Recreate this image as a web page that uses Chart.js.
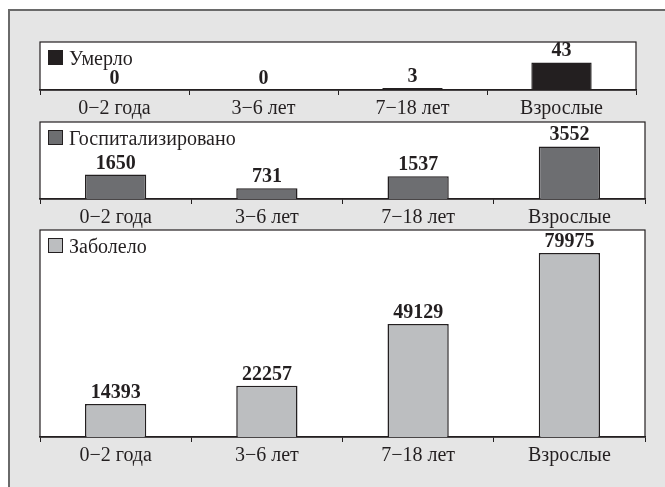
<!DOCTYPE html>
<html>
<head>
<meta charset="utf-8">
<script src="https://cdn.jsdelivr.net/npm/chart.js@4/dist/chart.umd.min.js"></script>
<style>
  body { margin: 0; background: #fff; width: 665px; height: 487px; overflow: hidden; position: relative; }
  #frame { position: absolute; left: 8px; top: 9px; width: 700px; height: 520px; background: #e5e5e5; border: 2px solid #6a6a6a; box-sizing: border-box; }
  canvas { position: absolute; }
</style>
</head>
<body>
<div id="frame"></div>
<canvas id="died" width="598" height="79" style="left:39px;top:41px"></canvas>
<canvas id="hosp" width="607" height="108" style="left:39px;top:121px"></canvas>
<canvas id="sick" width="607" height="238" style="left:39px;top:229px"></canvas>
<script>
// данные
var categories = ['0\u22122 года', '3\u22126 лет', '7\u221218 лет', 'Взрослые'];
var diedValues = [0, 0, 3, 43];
var hospValues = [1650, 731, 1537, 3552];
var sickValues = [14393, 22257, 49129, 79975];

var ink = '#231f20';
var serif = 'Liberation Serif';

// белая рамка, легенда и подписи значений
var panelPlugin = {
  id: 'panel',
  beforeDraw: function (chart) {
    var ctx = chart.ctx, a = chart.chartArea;
    ctx.save();
    ctx.fillStyle = '#fff';
    ctx.fillRect(a.left, a.top, a.width, a.height);
    ctx.strokeStyle = ink;
    ctx.lineWidth = 1.2;
    ctx.strokeRect(a.left, a.top, a.width, a.height);
    ctx.restore();
  },
  afterDatasetsDraw: function (chart) {
    var ctx = chart.ctx, a = chart.chartArea;
    var ds = chart.data.datasets[0];
    var meta = chart.getDatasetMeta(0);
    ctx.save();
    ctx.fillStyle = ink;
    ctx.font = 'bold 20px "' + serif + '"';
    ctx.textAlign = 'center';
    ctx.textBaseline = 'alphabetic';
    meta.data.forEach(function (bar, i) {
      ctx.fillText(String(ds.data[i]), bar.x, bar.y - 6);
    });
    // легенда
    ctx.fillStyle = ds.backgroundColor;
    ctx.fillRect(a.left + 8.5, a.top + 8.5, 14, 14);
    ctx.strokeStyle = ink;
    ctx.lineWidth = 1;
    ctx.strokeRect(a.left + 8.5, a.top + 8.5, 14, 14);
    ctx.fillStyle = ink;
    ctx.font = '20px "' + serif + '"';
    ctx.textAlign = 'left';
    ctx.fillText(ds.label, a.left + 29, a.top + 22.5);
    ctx.restore();
  }
};

function makeChart(id, label, values, color, yMax) {
  return new Chart(document.getElementById(id), {
    type: 'bar',
    data: {
      labels: categories,
      datasets: [{
        label: label,
        data: values,
        backgroundColor: color,
        borderColor: ink,
        borderWidth: 1.5,
        barPercentage: 0.405,
        categoryPercentage: 1
      }]
    },
    options: {
      responsive: false,
      animation: false,
      layout: { padding: { left: 1, right: 1, top: 1, bottom: 0 } },
      plugins: { legend: { display: false }, tooltip: { enabled: false } },
      scales: {
        y: { display: false, min: 0, max: yMax },
        x: {
          afterFit: function (s) { s.height = 30; },
          border: { display: true, color: ink, width: 1.5 },
          grid: { drawOnChartArea: false, drawTicks: true, tickLength: 5, color: ink, lineWidth: 1, offset: true },
          ticks: {
            color: ink,
            padding: 2,
            maxRotation: 0,
            autoSkip: false,
            font: { family: serif, size: 20 }
          }
        }
      }
    },
    plugins: [panelPlugin]
  });
}

makeChart('died', 'Умерло', diedValues, '#231f20', 75);
makeChart('hosp', 'Госпитализировано', hospValues, '#6d6e71', 5200);
makeChart('sick', 'Заболело', sickValues, '#bcbec0', 90000);
</script>
</body>
</html>
